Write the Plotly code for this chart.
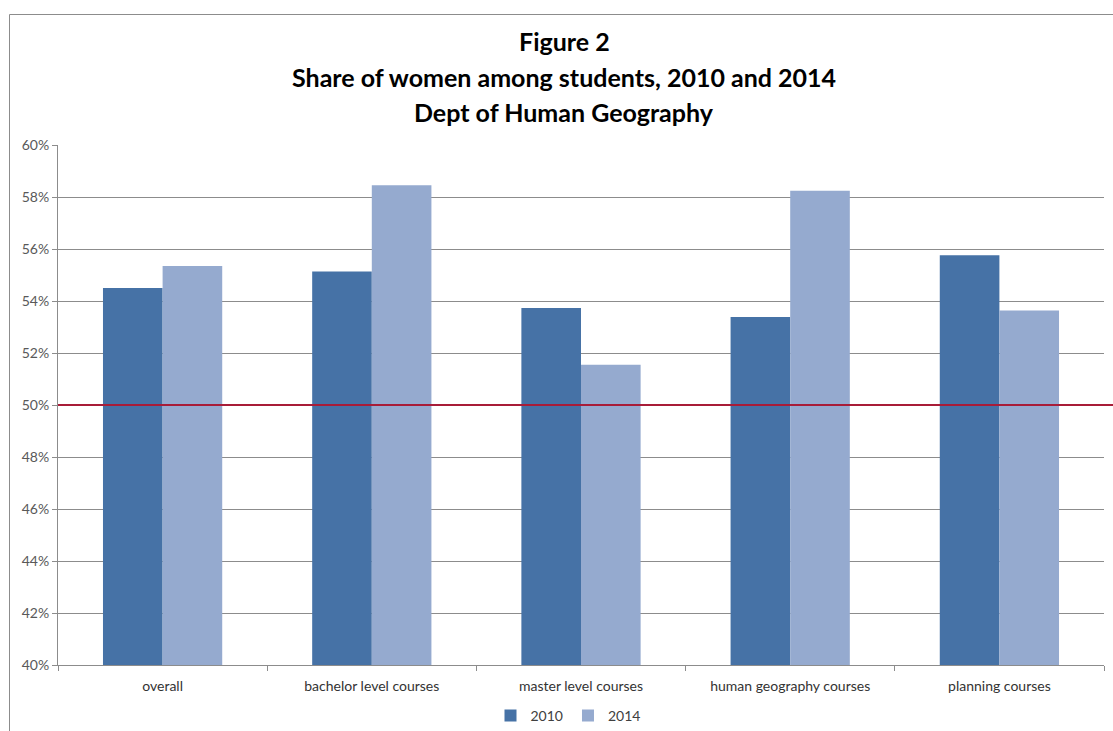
import plotly.graph_objects as go

categories = ["overall", "bachelor level courses", "master level courses",
              "human geography courses", "planning courses"]
share_2010 = [54.5, 55.13, 53.73, 53.38, 55.76]
share_2014 = [55.35, 58.45, 51.55, 58.24, 53.63]
y_ticks = [40, 42, 44, 46, 48, 50, 52, 54, 56, 58, 60]
y_tick_labels = [f"{v}%" for v in y_ticks]
reference_level = 50
title_lines = ["Figure 2", "Share of women among students, 2010 and 2014",
               "Dept of Human Geography"]

W, H = 1113, 731
L, R, T, B = 58, 9, 145, 66
plot_w = W - L - R
plot_h = H - T - B

def px_x(p):
    return (p - L) / plot_w

def px_y(p):
    return (H - B - p) / plot_h

FONT = "Lato, 'Open Sans', sans-serif"

fig = go.Figure()
fig.add_trace(go.Bar(x=categories, y=share_2010, name="2010",
                     marker=dict(color="#4672A6", line=dict(width=0))))
fig.add_trace(go.Bar(x=categories, y=share_2014, name="2014",
                     marker=dict(color="#95AACF", line=dict(width=0))))

fig.update_layout(
    width=W, height=H,
    margin=dict(l=L, r=R, t=T, b=B, pad=0, autoexpand=False),
    paper_bgcolor="white", plot_bgcolor="white",
    barmode="group", bargap=0.43, bargroupgap=0,
    font=dict(family=FONT, size=14, color="#404040"),
    showlegend=True,
    legend=dict(orientation="h", x=px_x(568), xanchor="center",
                y=px_y(716), yanchor="middle", font=dict(size=14, color="#404040"),
                itemwidth=30, tracegroupgap=0, bgcolor="rgba(0,0,0,0)"),
)

fig.update_yaxes(range=[40, 60], tickvals=y_ticks, ticktext=y_tick_labels,
                 showgrid=True, gridcolor="#8C8C8C", gridwidth=1,
                 showline=True, linecolor="#8C8C8C", linewidth=1,
                 ticks="outside", ticklen=5, tickcolor="#8C8C8C",
                 tickfont=dict(size=14, color="#595959"), zeroline=False,
                 automargin=False)
fig.update_xaxes(showline=True, linecolor="#8C8C8C", linewidth=1,
                 ticks="outside", ticklen=5, tickcolor="#8C8C8C",
                 tickson="boundaries", showgrid=False, automargin=False,
                 ticklabelstandoff=8,
                 tickfont=dict(size=14, color="#333333"))

# 50% reference line
fig.add_shape(type="line", xref="paper", yref="y",
              x0=0, x1=px_x(1113), y0=reference_level, y1=reference_level,
              line=dict(color="#A81C38", width=2), layer="above")

# chart frame (left and top edges)
fig.add_shape(type="line", xref="paper", yref="paper",
              x0=px_x(9.5), x1=px_x(9.5), y0=px_y(14.5), y1=px_y(740),
              line=dict(color="#8C8C8C", width=1))
fig.add_shape(type="line", xref="paper", yref="paper",
              x0=px_x(9.5), x1=px_x(1120), y0=px_y(14.5), y1=px_y(14.5),
              line=dict(color="#8C8C8C", width=1))

for text, py in zip(title_lines, [41, 77, 112]):
    fig.add_annotation(text=f"<b>{text}</b>", xref="paper", yref="paper",
                       x=px_x(564), y=px_y(py), xanchor="center", yanchor="middle",
                       showarrow=False, font=dict(family=FONT, size=25, color="#000000"))

fig.write_html("out.html")
